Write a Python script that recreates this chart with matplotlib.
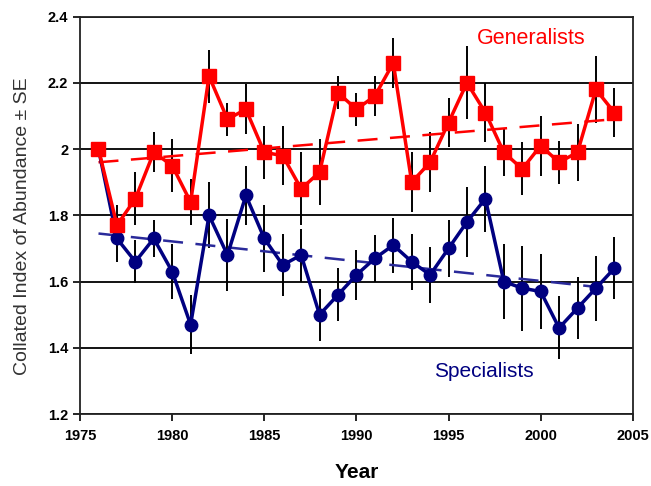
import matplotlib
matplotlib.use("Agg")
import matplotlib.pyplot as plt

plt.rcParams['font.family'] = ['Liberation Sans', 'DejaVu Sans']

years = list(range(1976, 2005))

# generalists (red squares)
gen = [2.00, 1.77, 1.85, 1.99, 1.95, 1.84, 2.22, 2.09, 2.12, 1.99,
       1.98, 1.88, 1.93, 2.17, 2.12, 2.16, 2.26, 1.90, 1.96, 2.08,
       2.20, 2.11, 1.99, 1.94, 2.01, 1.96, 1.99, 2.18, 2.11]
gen_se = [0.01, 0.06, 0.08, 0.06, 0.08, 0.07, 0.08, 0.05, 0.075, 0.08,
          0.09, 0.11, 0.10, 0.05, 0.05, 0.06, 0.075, 0.09, 0.09, 0.075,
          0.11, 0.09, 0.07, 0.08, 0.09, 0.065, 0.085, 0.10, 0.075]

# specialists (blue circles)
spec = [2.00, 1.73, 1.66, 1.73, 1.63, 1.47, 1.80, 1.68, 1.86, 1.73,
        1.65, 1.68, 1.50, 1.56, 1.62, 1.67, 1.71, 1.66, 1.62, 1.70,
        1.78, 1.85, 1.60, 1.58, 1.57, 1.46, 1.52, 1.58, 1.64]
spec_se = [0.01, 0.07, 0.065, 0.055, 0.083, 0.088, 0.10, 0.11, 0.09, 0.10,
           0.095, 0.08, 0.078, 0.08, 0.075, 0.07, 0.083, 0.085, 0.085, 0.086,
           0.105, 0.10, 0.113, 0.128, 0.113, 0.095, 0.093, 0.098, 0.093]

# trend line end points
trend_x = [1976, 2004]
trend_gen = [1.96, 2.09]
trend_spec = [1.745, 1.578]

red = '#ff0000'
navy = '#000080'

fig = plt.figure(figsize=(6.51, 4.86), dpi=100)
ax = fig.add_axes([0.123, 0.148, 0.849, 0.818])

ax.errorbar(years[1:], spec[1:], yerr=spec_se[1:], fmt='none', ecolor='black', elinewidth=1.4, zorder=2)
ax.errorbar(years, gen, yerr=gen_se, fmt='none', ecolor='black', elinewidth=1.4, zorder=2)

ax.plot(trend_x, trend_spec, color='#2a2a9a', lw=1.8, dashes=(8, 5), zorder=3)
ax.plot(trend_x, trend_gen, color=red, lw=1.8, dashes=(8, 5), zorder=3)

ax.plot(years, spec, color=navy, lw=2.5, marker='o', markersize=9, zorder=4)
ax.plot(years, gen, color=red, lw=2.5, marker='s', markersize=10, zorder=5)

ax.set_xlim(1975, 2005)
ax.set_ylim(1.2, 2.4)
ax.set_xticks(range(1975, 2006, 5))
ax.set_yticks([1.2, 1.4, 1.6, 1.8, 2.0, 2.2, 2.4])
ax.set_yticklabels(['1.2', '1.4', '1.6', '1.8', '2', '2.2', '2.4'])
ax.yaxis.grid(True, color='black', lw=1.3)
ax.tick_params(direction='out', length=5, width=1.2, labelsize=10.5)
ax.tick_params(axis='x', pad=6)
for lbl in ax.get_xticklabels() + ax.get_yticklabels():
    lbl.set_fontweight('bold')
for s in ax.spines.values():
    s.set_linewidth(1.3)
    s.set_color('#222222')

ax.set_ylabel('Collated Index of Abundance ± SE', fontsize=14, color='#333333', labelpad=9)
ax.yaxis.set_label_coords(-0.088, 0.473)
ax.set_xlabel('Year', fontsize=15, fontweight='bold', labelpad=14)

ax.text(1999.5, 2.335, 'Generalists', color=red, fontsize=15.5, ha='center', va='center')
ax.text(1996.9, 1.33, 'Specialists', color=navy, fontsize=15, ha='center', va='center')

fig.savefig('out.png', dpi=100)
